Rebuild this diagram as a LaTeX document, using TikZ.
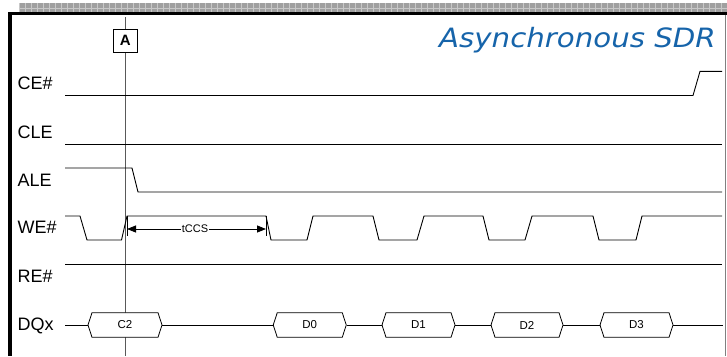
\documentclass[tikz,border=0pt]{standalone}
\usepackage{fontspec}
\setmainfont{Liberation Sans}
\newfontfamily\titlefont{DejaVu Sans}
\usetikzlibrary{shapes.symbols,arrows.meta}
\definecolor{titleblue}{RGB}{22,100,170}
\definecolor{stripgrey}{RGB}{160,160,160}
\definecolor{stripline}{RGB}{200,200,200}
\begin{document}
\begin{tikzpicture}[x=1pt,y=-1pt,
  wave/.style={draw=black,line width=0.9pt,line join=miter},
  siglabel/.style={anchor=base west,inner sep=0pt,font=\fontsize{18}{20}\selectfont},
  busbox/.style={shape=signal,signal to=west and east,signal pointer angle=144,
     draw=black,fill=white,line width=0.8pt,minimum height=24.6pt,minimum width=74pt,inner sep=0pt,
     font=\fontsize{11.5}{12}\selectfont},
  markerbox/.style={draw=black,fill=white,line width=0.8pt,minimum width=24pt,minimum height=23pt,inner sep=0pt,
     font=\bfseries\fontsize{15}{16}\selectfont},
  dimline/.style={draw=black,line width=0.8pt,{Triangle[length=9pt,width=7pt]}-{Triangle[length=9pt,width=7pt]}}
]
\useasboundingbox (0,0) rectangle (727,356);
\fill[white] (0,0) rectangle (727,356);
% grey strip
\fill[stripgrey] (19,3.3) rectangle (727,12.3);
\foreach \i in {0,...,118} {\draw[stripline,line width=0.6pt] ({19+6*\i},3.3) -- ({19+6*\i},12.3);}
\draw[stripline,line width=0.6pt] (19,8.6) -- (727,8.6);
% border
\draw[black,line width=2.4pt] (8.3,13.5) -- (727,13.5);
\draw[black,line width=3.4pt] (10,12.3) -- (10,356);
\draw[gray,line width=1.3pt] (725.7,14.5) -- (725.7,356);
% title
\node[anchor=base east,inner sep=0pt,text=titleblue] (title) at (716,47.7)
  {\scalebox{1.1}[1]{\titlefont\itshape\fontsize{26.6}{30}\selectfont Asynchronous SDR}};
% marker
\draw[black!65,line width=1pt] (125.3,17) -- (125.3,356);
\node[markerbox] (mA) at (125.3,40.8) {A};
% labels
\node[siglabel] (lce) at (17.5,89.3) {CE\#};
\node[siglabel] (lcle) at (17.5,138) {CLE};
\node[siglabel] (lale) at (17.5,186.5) {ALE};
\node[siglabel] (lwe) at (17.5,233) {WE\#};
\node[siglabel] (lre) at (17.5,282) {RE\#};
\node[siglabel] (ldq) at (17.5,330.7) {DQx};
% waveforms
\draw[wave] (65,95.5) -- (693,95.5) -- (700,71.3) -- (722,71.3);
\draw[wave] (65,144) -- (722,144);
\draw[wave] (65,168) -- (132,168) -- (138,192) -- (722,192);
\draw[wave] (65,216) -- (80,216) -- (87,240) -- (121.5,240) -- (127,216) -- (266,216) -- (271,240)
  -- (307,240) -- (313,216) -- (373,216) -- (379,240) -- (417,240) -- (424,216) -- (483,216)
  -- (489,240) -- (525,240) -- (532,216) -- (593,216) -- (599,240) -- (636,240) -- (642,216) -- (722,216);
\draw[wave] (65,264) -- (722,264);
% tCCS dimension
\coordinate (t1) at (127,229);
\coordinate (t2) at (266,229);
\draw[black,line width=0.8pt] (127,216) -- (127,236);
\draw[black,line width=0.8pt] (266,216) -- (266,236);
\draw[dimline] (t1) -- (t2);
\node[fill=white,inner sep=0.5pt,font=\fontsize{11}{12}\selectfont] (tccs) at (195,228.5) {tCCS};
% DQx bus
\coordinate (dqs) at (65,325);
\coordinate (dqe) at (723,325);
\node[busbox] (c2) at (125,325) {C2};
\node[busbox,minimum width=73pt] (d0) at (309.75,325) {D0};
\node[busbox,minimum width=73pt] (d1) at (418.5,325) {D1};
\node[busbox,minimum width=72pt] (d2) at (527,325) {D2};
\node[busbox,minimum width=73pt] (d3) at (636.5,325) {D3};
\draw[wave] (dqs) -- (c2.west);
\draw[wave] (c2.east) -- (d0.west);
\draw[wave] (d0.east) -- (d1.west);
\draw[wave] (d1.east) -- (d2.west);
\draw[wave] (d2.east) -- (d3.west);
\draw[wave] (d3.east) -- (dqe);
\end{tikzpicture}
\end{document}
